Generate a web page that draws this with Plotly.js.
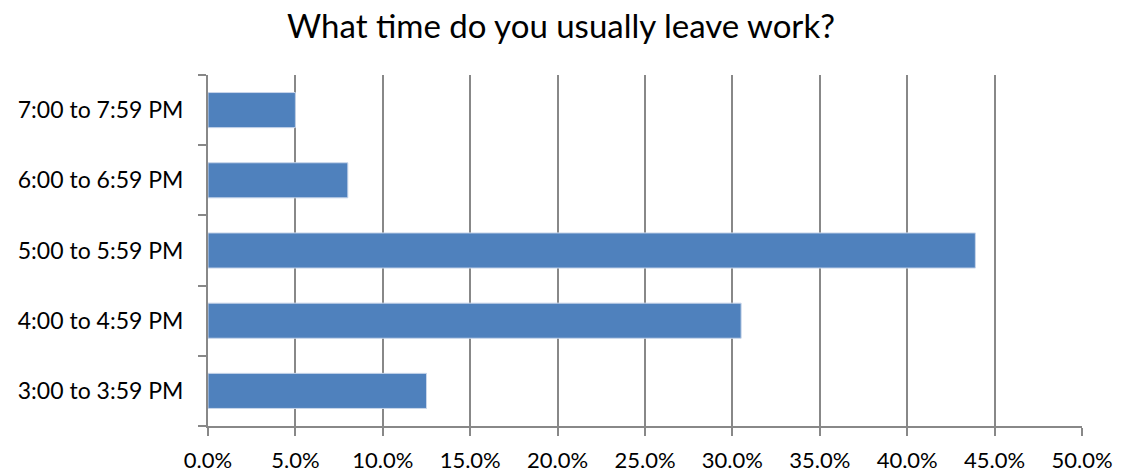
<!DOCTYPE html>
<html>
<head>
<meta charset="utf-8">
<script src="https://cdn.plot.ly/plotly-3.0.1.min.js"></script>
<style>html,body{margin:0;padding:0;background:#fff;}#chart{width:1122px;height:476px;}</style>
</head>
<body>
<div id="chart"></div>
<script>
const categories = ["3:00 to 3:59 PM", "4:00 to 4:59 PM", "5:00 to 5:59 PM", "6:00 to 6:59 PM", "7:00 to 7:59 PM"];
const values = [0.125, 0.305, 0.439, 0.080, 0.050];
const titleText = "What time do you usually leave work?";

const font = "Lato, 'Open Sans', sans-serif";
const gray = "#888888";

Plotly.newPlot("chart", [{
  type: "bar",
  orientation: "h",
  y: categories,
  x: values,
  marker: {color: "#4F81BD", line: {color: "#C9D6EA", width: 1}},
  hoverinfo: "none"
}], {
  width: 1122, height: 476,
  margin: {l: 208, r: 40, t: 75, b: 50},
  paper_bgcolor: "#fff", plot_bgcolor: "#fff",
  bargap: 0.5,
  showlegend: false,
  title: {text: titleText, font: {family: font, size: 33, color: "#000"}, x: 0.5, xanchor: "center", y: 0.945, yanchor: "middle"},
  xaxis: {
    range: [0, 0.5], dtick: 0.05, tick0: 0, tickformat: ".1%",
    showgrid: true, gridcolor: gray, gridwidth: 2,
    zeroline: false, showline: true, linecolor: gray, linewidth: 2,
    ticks: "outside", ticklen: 8, tickcolor: gray, tickwidth: 2,
    ticklabelstandoff: 6,
    tickfont: {family: font, size: 22, color: "#000"}, fixedrange: true
  },
  yaxis: {
    type: "category",
    showgrid: false, zeroline: false, showline: true, linecolor: gray, linewidth: 2,
    ticks: "outside", tickson: "boundaries", ticklen: 8, tickcolor: gray, tickwidth: 2,
    ticklabelstandoff: 18,
    tickfont: {family: font, size: 23, color: "#000"}, fixedrange: true
  }
}, {displayModeBar: false, staticPlot: true});
</script>
</body>
</html>
